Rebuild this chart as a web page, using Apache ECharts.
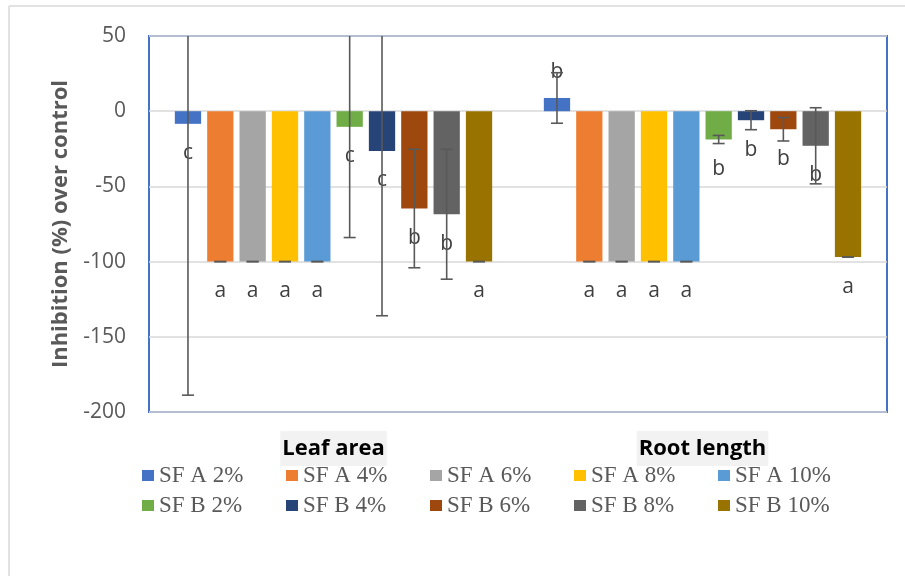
<!DOCTYPE html>
<html>
<head>
<meta charset="utf-8">
<script src="https://cdn.jsdelivr.net/npm/echarts@6/dist/echarts.min.js"></script>
<style>
  html, body { margin: 0; padding: 0; background: #ffffff; }
  #chart { width: 905px; height: 576px; }
</style>
</head>
<body>
<div id="chart"></div>
<script>
// Categories on the x axis
const categories = ['Leaf area', 'Root length'];

// Treatment names (legend order)
const treatments = ['SF A 2%', 'SF A 4%', 'SF A 6%', 'SF A 8%', 'SF A 10%',
                    'SF B 2%', 'SF B 4%', 'SF B 6%', 'SF B 8%', 'SF B 10%'];

// Inhibition (%) over control: [leaf area, root length]
const sfA2  = [-8.4, 8.8];
const sfA4  = [-100, -100];
const sfA6  = [-100, -100];
const sfA8  = [-100, -100];
const sfA10 = [-100, -100];
const sfB2  = [-10.4, -18.8];
const sfB4  = [-26.4, -6];
const sfB6  = [-64.7, -12];
const sfB8  = [-68.5, -23];
const sfB10 = [-100, -97];

// Error (±) for each value
const errA2  = [180.4, 16.8];
const errA4  = [0, 0];
const errA6  = [0, 0];
const errA8  = [0, 0];
const errA10 = [0, 0];
const errB2  = [73.6, 2.7];
const errB4  = [109.6, 6.3];
const errB6  = [39.4, 7.8];
const errB8  = [43.2, 25.3];
const errB10 = [0, 0];

// Significance letters
const sigA2  = ['c', 'b'];
const sigA4  = ['a', 'a'];
const sigA6  = ['a', 'a'];
const sigA8  = ['a', 'a'];
const sigA10 = ['a', 'a'];
const sigB2  = ['c', 'b'];
const sigB4  = ['c', 'b'];
const sigB6  = ['b', 'b'];
const sigB8  = ['b', 'b'];
const sigB10 = ['a', 'a'];

// Y axis ticks
const yMin = -200, yMax = 50, yStep = 50;

const values  = [sfA2, sfA4, sfA6, sfA8, sfA10, sfB2, sfB4, sfB6, sfB8, sfB10];
const errors  = [errA2, errA4, errA6, errA8, errA10, errB2, errB4, errB6, errB8, errB10];
const letters = [sigA2, sigA4, sigA6, sigA8, sigA10, sigB2, sigB4, sigB6, sigB8, sigB10];

const colors = ['#4472C4', '#ED7D31', '#A5A5A5', '#FFC000', '#5B9BD5',
                '#70AD47', '#264478', '#9E480E', '#636363', '#997300'];

const CAT_GAP = 0.14;   // barCategoryGap
const BAR_GAP = 0.23;   // barGap
const N = treatments.length;

const chart = echarts.init(document.getElementById('chart'), null, { renderer: 'canvas' });

const barSeries = treatments.map((name, i) => ({
  name: name,
  type: 'bar',
  barCategoryGap: (CAT_GAP * 100) + '%',
  barGap: (BAR_GAP * 100) + '%',
  itemStyle: { color: colors[i] },
  data: values[i].map((v, c) => ({
    value: v,
    label: {
      show: true,
      position: 'outside',
      distance: v < 0 ? 19 : 15,
      formatter: letters[i][c],
      fontFamily: 'Open Sans',
      fontSize: 21,
      color: '#404040'
    }
  })),
  z: 2
}));

// Error bars drawn at each bar's centre, clipped to the plot range
const errSeries = treatments.map((name, i) => ({
  name: 'err ' + name,
  type: 'custom',
  z: 3,
  silent: true,
  data: values[i].map((v, c) => [c, v, errors[i][c]]),
  renderItem: function (params, api) {
    const c = api.value(0), v = api.value(1), e = api.value(2);
    const band = api.size([1, 0])[0];
    const usable = band * (1 - CAT_GAP);
    const w = usable / (N + (N - 1) * BAR_GAP);
    const dx = -usable / 2 + i * w * (1 + BAR_GAP) + w / 2;
    const hiV = v + e, loV = v - e;
    const hiC = Math.min(hiV, yMax), loC = Math.max(loV, yMin);
    const x = api.coord([c, 0])[0] + dx;
    const yHi = api.coord([c, hiC])[1];
    const yLo = api.coord([c, loC])[1];
    const capW = 6;
    const style = { stroke: '#595959', lineWidth: 1.6 };
    const children = [
      { type: 'line', shape: { x1: x, y1: yHi, x2: x, y2: yLo }, style: style }
    ];
    if (hiV <= yMax) children.push({ type: 'line', shape: { x1: x - capW, y1: yHi, x2: x + capW, y2: yHi }, style: style });
    if (loV >= yMin) children.push({ type: 'line', shape: { x1: x - capW, y1: yLo, x2: x + capW, y2: yLo }, style: style });
    return { type: 'group', children: children };
  }
}));

// Legend entries sit in fixed-width columns
const legendBase = {
  left: 142,
  padding: 0,
  icon: 'rect', itemWidth: 12, itemHeight: 11, itemGap: 8,
  selectedMode: false,
  formatter: (name) => '{t|' + name + '}',
  textStyle: {
    rich: {
      t: { fontFamily: 'Liberation Serif', fontSize: 23, color: '#595959', width: 119, lineHeight: 26 }
    }
  }
};

const option = {
  animation: false,
  backgroundColor: '#ffffff',
  grid: {
    left: 149, right: 18, top: 36, bottom: 164,
    show: true, borderColor: '#4472C4', borderWidth: 2, backgroundColor: 'transparent'
  },
  xAxis: {
    type: 'category',
    data: categories,
    axisLine: { show: false, onZero: false },
    axisTick: { show: false },
    splitLine: { show: false },
    axisLabel: {
      margin: 19,
      fontFamily: 'Open Sans',
      fontWeight: 'bold',
      fontSize: 22,
      color: '#000000',
      backgroundColor: '#f2f2f2',
      lineHeight: 27,
      padding: [4, 2, 4, 2]
    }
  },
  yAxis: {
    type: 'value',
    min: yMin, max: yMax, interval: yStep,
    name: 'Inhibition (%) over control',
    nameLocation: 'middle',
    nameGap: 77,
    nameTextStyle: { fontFamily: 'Open Sans', fontWeight: 'bold', fontSize: 22, color: '#595959' },
    axisLine: { show: false },
    axisTick: { show: false },
    axisLabel: { margin: 23, fontFamily: 'Open Sans', fontSize: 21, color: '#595959' },
    splitLine: { lineStyle: { color: '#d9d9d9', width: 1.5 } }
  },
  legend: [
    Object.assign({}, legendBase, { data: treatments.slice(0, 5), top: 464 }),
    Object.assign({}, legendBase, { data: treatments.slice(5), top: 494 })
  ],
  graphic: [
    { type: 'line', shape: { x1: 9, y1: 6, x2: 905, y2: 6 }, style: { stroke: '#d9d9d9', lineWidth: 1.5 }, silent: true },
    { type: 'line', shape: { x1: 9, y1: 6, x2: 9, y2: 576 }, style: { stroke: '#d9d9d9', lineWidth: 1.5 }, silent: true }
  ],
  series: barSeries.concat(errSeries)
};

chart.setOption(option);
</script>
</body>
</html>
